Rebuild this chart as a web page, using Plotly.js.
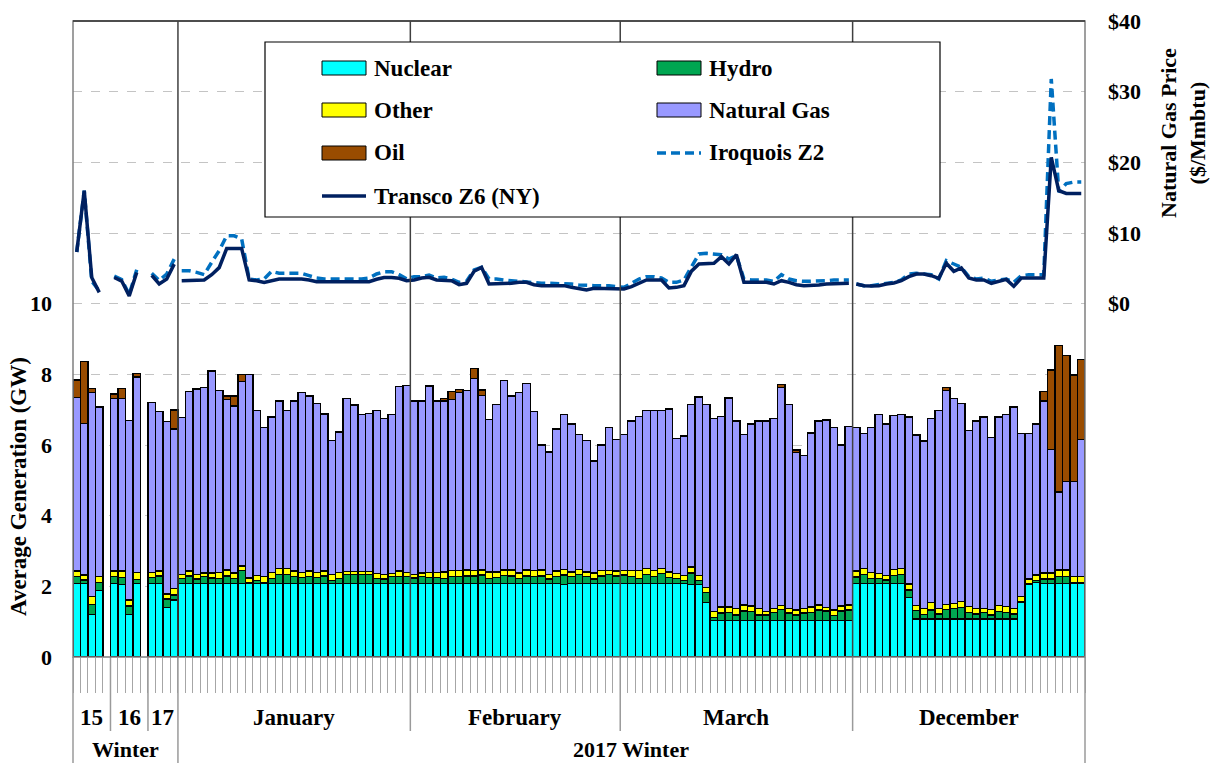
<!DOCTYPE html>
<html><head><meta charset="utf-8">
<script src="https://cdn.plot.ly/plotly-3.0.1.min.js"></script>
<style>html,body{margin:0;padding:0;background:#fff}#chart{width:1211px;height:763px}</style>
</head><body><div id="chart"></div>
<script>
// ---------- category structure ----------
const groupLabels  = ["15","16","17","January","February","March","December"];
const groupSlots   = [5, 5, 4, 31, 28, 31, 31];      // days per group (incl. one blank spacer day for 15 and 16)
const seasonLabels = ["Winter","2017 Winter"];
const groupSeason  = [0, 0, 0, 1, 1, 1, 1];
const lineSegments = [0, 1, 2, 3, 3, 3, 4];           // consecutive-day runs for the price lines

// ---------- generation (GW) ----------
const nuclear = [
 2.08,2.08,1.21,1.88,null, 2.08,2.05,1.21,2.08,null, 2.08,2.08,1.4,1.61,
 2.08,2.08,2.08,2.08,2.08,2.08,2.08,2.08,2.08,2.08,2.08,2.08,2.08,2.08,2.08,2.08,2.08,2.08,2.08,2.08,2.08,2.08,2.08,2.08,2.08,2.08,2.08,2.08,2.08,2.08,2.08,
 2.08,2.08,2.08,2.08,2.08,2.08,2.08,2.08,2.08,2.08,2.08,2.08,2.08,2.08,2.08,2.08,2.08,2.08,2.08,2.08,2.05,2.08,2.08,2.08,2.08,2.08,2.08,2.08,
 2.08,2.08,2.08,2.08,2.08,2.08,2.08,2.08,2.08,2.05,2.05,1.55,1.03,1.03,1.03,1.03,1.03,1.03,1.03,1.03,1.03,1.03,1.03,1.03,1.03,1.03,1.03,1.03,1.03,1.03,1.03,
 2.08,2.08,2.08,2.08,2.08,2.08,2.08,1.68,1.07,1.07,1.07,1.07,1.07,1.07,1.07,1.07,1.07,1.07,1.07,1.07,1.07,1.07,1.55,2.05,2.11,2.08,2.08,2.08,2.08,2.08,2.08
];
const hydro = [
 0.2,0.1,0.28,0.23,null, 0.2,0.2,0.23,0.12,null, 0.17,0.21,0.24,0.14,
 0.14,0.21,0.13,0.19,0.16,0.14,0.21,0.14,0.36,0.03,0.08,0.03,0.14,0.25,0.25,0.19,0.17,0.19,0.17,0.21,0.09,0.14,0.26,0.26,0.26,0.26,0.14,0.13,0.19,0.19,0.19,
 0.16,0.19,0.17,0.17,0.14,0.19,0.19,0.21,0.21,0.24,0.14,0.17,0.23,0.21,0.14,0.21,0.19,0.21,0.13,0.19,0.27,0.19,0.25,0.19,0.13,0.21,0.25,0.21,
 0.24,0.19,0.14,0.26,0.19,0.28,0.17,0.14,0.09,0.33,0.12,0.27,0.09,0.21,0.23,0.16,0.27,0.25,0.16,0.16,0.23,0.32,0.21,0.16,0.21,0.23,0.3,0.27,0.15,0.27,0.3,
 0.18,0.25,0.14,0.15,0.1,0.22,0.25,0.22,0.25,0.13,0.26,0.15,0.27,0.3,0.33,0.19,0.15,0.19,0.12,0.22,0.19,0.15,0.02,0.03,0.06,0.13,0.13,0.19,0.19,0.02,0.02
];
const other = [
 0.15,0.14,0.22,0.16,null, 0.15,0.18,0.17,0.2,null, 0.15,0.14,0.14,0.19,
 0.12,0.14,0.13,0.11,0.14,0.17,0.17,0.16,0.13,0.13,0.14,0.16,0.17,0.17,0.17,0.16,0.14,0.16,0.14,0.14,0.17,0.17,0.08,0.08,0.08,0.08,0.14,0.13,0.09,0.16,0.12,
 0.1,0.11,0.15,0.15,0.19,0.17,0.17,0.17,0.15,0.14,0.19,0.16,0.15,0.17,0.16,0.17,0.17,0.17,0.13,0.16,0.15,0.14,0.15,0.14,0.17,0.15,0.12,0.14,
 0.12,0.17,0.22,0.16,0.17,0.14,0.16,0.14,0.14,0.17,0.13,0.15,0.16,0.17,0.15,0.18,0.17,0.16,0.18,0.09,0.12,0.11,0.13,0.14,0.14,0.15,0.14,0.1,0.15,0.14,0.14,
 0.17,0.17,0.17,0.14,0.13,0.17,0.17,0.17,0.13,0.17,0.21,0.16,0.15,0.15,0.17,0.17,0.16,0.12,0.16,0.17,0.17,0.16,0.14,0.13,0.15,0.17,0.17,0.19,0.19,0.17,0.17
];
const naturalGas = [
 4.92,4.29,5.77,4.81,null, 4.89,4.89,5.09,5.53,null, 4.8,4.51,4.88,4.51,
 4.44,5.09,5.24,5.24,5.72,5.15,4.83,4.72,5.23,5.76,4.68,4.22,4.4,4.75,4.48,4.82,5.09,4.96,4.79,4.45,3.78,3.98,4.9,4.71,4.44,4.48,4.62,4.41,4.5,5.22,5.3,
 4.9,4.86,5.27,4.84,4.83,4.85,5.05,5.09,5.44,4.94,4.31,4.73,5.36,4.93,5.1,5.28,4.5,3.54,3.46,4.02,4.4,4.18,3.82,3.71,3.17,3.56,4.04,3.73,
 3.86,4.24,4.36,4.48,4.54,4.48,4.61,3.83,3.95,4.59,5.06,5.17,5.47,5.39,5.92,5.31,4.83,5.16,5.31,5.4,5.37,6.17,5.77,4.46,4.33,4.93,5.21,5.31,5.16,4.56,5.06,
 4.06,3.83,4.1,4.5,4.28,4.36,4.37,4.72,4.83,4.74,5.21,5.6,6.06,5.8,5.61,4.98,5.3,5.41,4.87,5.33,5.44,5.7,4.62,4.12,4.27,4.86,3.5,2.21,2.51,2.7,3.89
];
const oil = [
 0.49,1.76,0.12,null,null, 0.12,0.28,null,0.1,null, null,null,null,0.54,
 null,null,null,null,null,null,0.1,0.29,0.2,null,null,null,null,null,null,null,null,null,null,null,null,null,null,null,null,null,null,null,null,null,null,
 null,null,null,null,0.08,0.23,0.08,null,0.29,0.16,null,null,null,null,null,null,null,null,null,null,null,null,null,null,null,null,null,null,
 null,null,null,null,null,null,null,null,null,null,null,null,null,null,null,null,null,null,null,null,null,0.08,null,0.07,null,null,null,null,null,null,null,
 null,null,null,null,null,null,null,null,null,null,null,null,0.07,null,null,null,null,null,null,null,null,null,null,null,null,0.28,2.24,4.14,3.57,3.01,2.26
];

// ---------- natural gas prices ($/MMBtu) ----------
const iroquoisZ2 = [
 7.3,16.0,3.2,1.8,null, 3.9,3.4,1.3,4.8,null, 4.3,3.3,4.2,6.3,
 4.67,4.67,4.43,4.1,5.85,7.5,9.6,9.6,9.15,3.5,3.35,3.5,4.57,4.3,4.3,4.3,4.3,3.96,3.63,3.5,3.5,3.5,3.5,3.5,3.5,3.63,4.2,4.53,4.53,4.1,3.5,
 3.82,3.82,4.06,3.63,3.73,3.49,3.02,3.16,4.76,5.14,3.49,3.49,3.35,3.25,3.25,3.16,3.02,2.88,2.88,2.88,2.78,2.78,2.64,2.55,2.55,2.55,2.55,2.4,
 2.31,2.88,3.49,3.82,3.82,3.63,3.02,3.02,3.35,5.2,7.03,7.12,7.03,6.93,6.32,6.79,3.49,3.35,3.35,3.35,3.16,4.1,3.49,3.25,3.16,3.16,3.16,3.25,3.35,3.35,3.35,
 2.78,2.55,2.55,2.69,2.88,3.02,3.35,4.2,4.3,4.2,4.1,3.49,6.08,5.61,5.14,3.82,3.49,3.63,3.16,3.35,3.49,3.02,3.96,4.1,4.1,4.1,31.8,15.8,17.0,17.2,17.2
];
const transcoZ6 = [
 7.3,16.0,3.7,1.6,null, 3.7,3.2,1.1,4.4,null, 4.0,2.8,3.5,5.6,
 3.25,3.25,3.25,3.35,4.1,5.1,7.8,7.8,7.8,3.35,3.25,3.0,3.25,3.5,3.5,3.5,3.5,3.35,3.1,3.1,3.1,3.1,3.1,3.1,3.1,3.1,3.45,3.7,3.7,3.6,3.25,
 3.35,3.63,3.73,3.35,3.25,3.25,2.69,2.88,4.58,5.14,2.78,2.78,2.78,2.88,3.02,3.02,2.69,2.55,2.55,2.55,2.55,2.31,2.17,1.93,2.17,2.17,2.17,2.07,
 2.07,2.4,2.88,3.35,3.35,3.35,2.22,2.31,2.55,4.6,5.61,5.61,5.71,6.65,5.61,6.93,3.02,3.02,3.02,3.02,2.78,3.25,3.02,2.69,2.55,2.55,2.64,2.78,2.78,2.88,2.88,
 2.78,2.55,2.5,2.55,2.78,2.92,3.25,3.82,4.2,4.2,3.96,3.58,5.71,4.58,5.05,3.63,3.35,3.35,2.88,3.16,3.44,2.45,3.63,3.63,3.63,3.63,20.7,16.0,15.6,15.6,15.6
];

const genTicks   = [0, 2, 4, 6, 8, 10];
const priceTicks = [0, 10, 20, 30, 40];
const priceTickText = ["$0", "$10", "$20", "$30", "$40"];

// ---------- build ----------
const FONT = "Liberation Serif, 'Times New Roman', serif";
const slotGroup = [];
groupSlots.forEach((n, g) => { for (let k = 0; k < n; k++) slotGroup.push(g); });
const N = slotGroup.length;
const xs = slotGroup.map((_, i) => i);
const groupStart = []; { let s = 0; groupSlots.forEach(n => { groupStart.push(s); s += n; }); }

const W = 1211, H = 763, ML = 73, MR = 126, MT = 21, MB = 106;
const PW = W - ML - MR, PH = H - MT - MB;
const px2x = px => (px - ML) / PW;
const px2y = py => (MT + PH - py) / PH;
const slot2paper = b => (b + 0.5) / N;

const colors = {Nuclear:'#00FFFF', Hydro:'#00A651', Other:'#FFFF00', 'Natural Gas':'#9999FF', Oil:'#994C00',
  'Iroquois Z2':'#0070C0', 'Transco Z6 (NY)':'#002060'};

function barTrace(name, y) {
  return {type:'bar', name, x:xs, y, yaxis:'y', showlegend:false, hoverinfo:'skip',
    marker:{color:colors[name], line:{color:'#000', width:1.4}}};
}
function lineXY(vals) {
  const x = [], y = [];
  for (let i = 0; i < N; i++) {
    if (i > 0 && lineSegments[slotGroup[i]] !== lineSegments[slotGroup[i-1]]) { x.push(i - 0.5); y.push(null); }
    x.push(i); y.push(vals[i]);
  }
  return {x, y};
}
const iro = lineXY(iroquoisZ2), tra = lineXY(transcoZ6);

const traces = [
  barTrace('Nuclear', nuclear), barTrace('Hydro', hydro), barTrace('Other', other),
  barTrace('Natural Gas', naturalGas), barTrace('Oil', oil),
  {type:'scatter', mode:'lines', name:'Iroquois Z2', x:iro.x, y:iro.y, yaxis:'y2', connectgaps:false,
   showlegend:false, hoverinfo:'skip', line:{color:colors['Iroquois Z2'], width:3.5, dash:'9px,5px'}},
  {type:'scatter', mode:'lines', name:'Transco Z6 (NY)', x:tra.x, y:tra.y, yaxis:'y2', connectgaps:false,
   showlegend:false, hoverinfo:'skip', line:{color:colors['Transco Z6 (NY)'], width:3.5}}
];

const shapes = [];
const annotations = [];
// interior separators between 2017 months and between seasons
for (let g = 3; g < groupLabels.length; g++) {
  const b = slot2paper(groupStart[g] - 0.5);
  shapes.push({type:'line', xref:'paper', yref:'paper', x0:b, x1:b, y0:0, y1:1, layer:'above', line:{color:'#404040', width:1.5}});
}
// category tick area: group separators and season separators
const lvl1Bottom = px2y(731), lvl2Bottom = px2y(763);
for (let g = 0; g <= groupLabels.length; g++) {
  const start = g < groupLabels.length ? groupStart[g] : N;
  const b = slot2paper(start - 0.5);
  const seasonEdge = g === 0 || g === groupLabels.length || groupSeason[g] !== groupSeason[g-1];
  shapes.push({type:'line', xref:'paper', yref:'paper', x0:b, x1:b, y0:0, y1: seasonEdge ? lvl2Bottom : lvl1Bottom,
    line:{color:'#9a9a9a', width:1.5}});
}
// group labels
groupLabels.forEach((lab, g) => {
  const c = groupStart[g] + (groupSlots[g] - 1) / 2;
  annotations.push({xref:'x', yref:'paper', x:c, y:px2y(717), text:'<b>' + lab + '</b>', showarrow:false,
    xanchor:'center', yanchor:'middle', font:{family:FONT, size:23, color:'#000'}});
});
// season labels
seasonLabels.forEach((lab, s) => {
  const gs = groupSeason.map((v, i) => v === s ? i : -1).filter(i => i >= 0);
  const a = groupStart[gs[0]], z = groupStart[gs[gs.length-1]] + groupSlots[gs[gs.length-1]] - 1;
  annotations.push({xref:'x', yref:'paper', x:(a + z) / 2, y:px2y(749), text:'<b>' + lab + '</b>', showarrow:false,
    xanchor:'center', yanchor:'middle', font:{family:FONT, size:22, color:'#000'}});
});
// plot frame
shapes.push({type:'rect', xref:'paper', yref:'paper', x0:0, x1:1, y0:0, y1:1, layer:'above', line:{color:'#808080', width:1.5}});
shapes.push({type:'line', xref:'paper', yref:'paper', x0:0, x1:1, y0:1, y1:1, layer:'above', line:{color:'#333', width:1.5}});

// axis titles
annotations.push({xref:'paper', yref:'paper', x:px2x(19), y:px2y(487), text:'<b>Average Generation (GW)</b>', textangle:-90,
  showarrow:false, xanchor:'center', yanchor:'middle', font:{family:FONT, size:23, color:'#000'}});
annotations.push({xref:'paper', yref:'paper', x:px2x(1183), y:px2y(133), text:'<b>Natural Gas Price<br>($/Mmbtu)</b>', textangle:-90,
  showarrow:false, xanchor:'center', yanchor:'middle', font:{family:FONT, size:22, color:'#000'}});

// legend (box + swatches + labels)
shapes.push({type:'rect', xref:'paper', yref:'paper', x0:px2x(265), x1:px2x(940), y0:px2y(217), y1:px2y(42),
  layer:'above', fillcolor:'#fff', line:{color:'#000', width:1.2}});
const legendItems = [
  ['Nuclear','bar',0,0], ['Hydro','bar',1,0], ['Other','bar',0,1], ['Natural Gas','bar',1,1],
  ['Oil','bar',0,2], ['Iroquois Z2','dash',1,2], ['Transco Z6 (NY)','solid',0,3]
];
const colX = [322, 657], rowY = [68, 110, 153, 196];
legendItems.forEach(([name, kind, c, r]) => {
  const x0 = colX[c], x1 = colX[c] + 44, y = rowY[r];
  if (kind === 'bar') {
    shapes.push({type:'rect', xref:'paper', yref:'paper', x0:px2x(x0), x1:px2x(x1), y0:px2y(y + 7), y1:px2y(y - 7),
      layer:'above', fillcolor:colors[name], line:{color:'#000', width:1}});
  } else {
    shapes.push({type:'line', xref:'paper', yref:'paper', x0:px2x(x0), x1:px2x(x1), y0:px2y(y), y1:px2y(y),
      layer:'above', line:{color:colors[name], width:3.5, dash: kind === 'dash' ? '9px,5px' : 'solid'}});
  }
  annotations.push({xref:'paper', yref:'paper', x:px2x(x1 + 6), y:px2y(y), text:'<b>' + name + '</b>', showarrow:false,
    xanchor:'left', yanchor:'middle', font:{family:FONT, size:23, color:'#000'}});
});

const boundaries = []; for (let i = 0; i <= N; i++) boundaries.push(i - 0.5);

const layout = {
  width:W, height:H, margin:{l:ML, r:MR, t:MT, b:MB, pad:0},
  paper_bgcolor:'#fff', plot_bgcolor:'#fff', barmode:'stack', bargap:0, showlegend:false,
  font:{family:FONT, color:'#000'},
  xaxis:{range:[-0.5, N - 0.5], showgrid:false, zeroline:false, showline:false, ticks:'outside',
    tickmode:'array', tickvals:boundaries, ticklen:35, tickwidth:1, tickcolor:'#a6a6a6', showticklabels:false, fixedrange:true},
  yaxis:{range:[0, 18], tickmode:'array', tickvals:genTicks, ticktext:genTicks.map(String), showgrid:true,
    gridcolor:'#c4c4c4', griddash:'dash', gridwidth:1, zeroline:false, showline:false, ticks:'', ticklabelstandoff:20,
    tickfont:{family:FONT, size:22, color:'#000', weight:'bold'}, fixedrange:true},
  yaxis2:{overlaying:'y', side:'right', range:[-50, 40], tickmode:'array', tickvals:priceTicks, ticktext:priceTickText,
    showgrid:true, gridcolor:'#c4c4c4', griddash:'dash', gridwidth:1, zeroline:false, showline:false, ticks:'',
    ticklabelstandoff:22, tickfont:{family:FONT, size:22, color:'#000', weight:'bold'}, fixedrange:true},
  shapes, annotations
};
Plotly.newPlot('chart', traces, layout, {displayModeBar:false, staticPlot:true});
</script></body></html>
